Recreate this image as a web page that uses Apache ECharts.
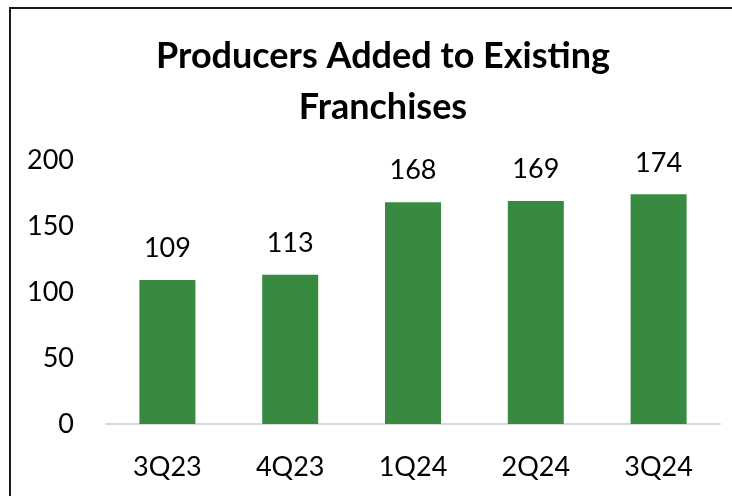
<!DOCTYPE html>
<html>
<head>
<meta charset="utf-8">
<script src="https://cdn.jsdelivr.net/npm/echarts@6/dist/echarts.min.js"></script>
<style>
  html, body { margin: 0; padding: 0; background: #fff; overflow: hidden; }
  #frame { position: absolute; left: 9px; top: 7px; width: 740px; height: 520px;
           border: 2px solid #1a1a1a; box-sizing: border-box; }
  #chart { position: absolute; left: 0; top: 0; width: 732px; height: 496px; }
</style>
</head>
<body>
<div id="frame"></div>
<div id="chart"></div>
<script>
// Quarterly producers added to existing franchises
const quarters = ['3Q23', '4Q23', '1Q24', '2Q24', '3Q24'];
const producersAdded = [109, 113, 168, 169, 174];
const yTicks = [0, 50, 100, 150, 200];

const font = 'Lato, "Open Sans", sans-serif';
const chart = echarts.init(document.getElementById('chart'), null, { renderer: 'canvas' });

chart.setOption({
  animation: false,
  backgroundColor: 'transparent',
  title: {
    text: 'Producers Added to Existing\nFranchises',
    left: 378,
    top: 26,
    textAlign: 'center',
    textStyle: { fontFamily: font, fontWeight: 'bold', fontSize: 36, lineHeight: 51, color: '#000' }
  },
  grid: { left: 106, right: 12, top: 160, bottom: 72, containLabel: false },
  xAxis: {
    type: 'category',
    data: quarters,
    axisLine: { lineStyle: { color: '#d9d9d9', width: 2 } },
    axisTick: { show: false },
    axisLabel: { fontFamily: font, fontSize: 27, color: '#000', margin: 30 }
  },
  yAxis: {
    type: 'value',
    min: yTicks[0],
    max: yTicks[yTicks.length - 1],
    interval: yTicks[1] - yTicks[0],
    splitLine: { show: false },
    axisLine: { show: false },
    axisTick: { show: false },
    axisLabel: { fontFamily: font, fontSize: 27, color: '#000', margin: 32 }
  },
  series: [{
    type: 'bar',
    data: producersAdded,
    barWidth: '45.6%',
    itemStyle: { color: '#378A40' },
    label: {
      show: true,
      position: 'top',
      distance: 18,
      fontFamily: font,
      fontSize: 27,
      color: '#000'
    }
  }]
});
</script>
</body>
</html>
